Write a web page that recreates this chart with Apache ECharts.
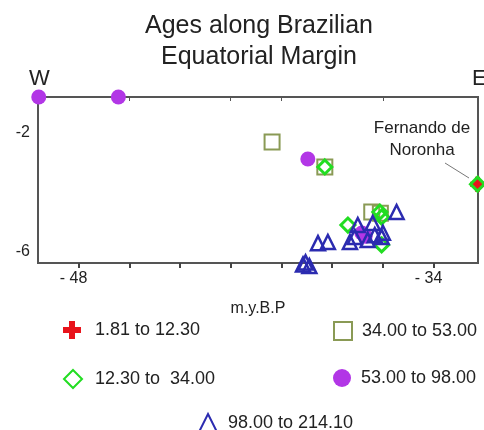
<!DOCTYPE html>
<html><head><meta charset="utf-8">
<script src="https://cdn.jsdelivr.net/npm/echarts@6/dist/echarts.min.js"></script>
<style>html,body{margin:0;padding:0;background:#fff}#c{width:484px;height:430px}</style>
</head><body><div id="c"></div>
<script>
var seriesNames = ['1.81 to 12.30', '12.30 to  34.00', '34.00 to 53.00', '53.00 to 98.00', '98.00 to 214.10'];
// [longitude, latitude]
var crossData = [[-32.27, -3.74]];
var diamondData = [[-38.29, -3.16], [-32.27, -3.74], [-37.38, -5.12], [-36.05, -5.79], [-36.12, -4.68], [-36.05, -4.85]];
var squareData = [[-40.37, -2.32], [-38.29, -3.16], [-36.44, -4.68], [-36.1, -4.72]];
var circleData = [[-49.57, -0.8], [-46.43, -0.8], [-38.96, -2.89], [-36.83, -5.39], [-36.7, -5.5]];
var triangleData = [[-35.46, -4.68], [-38.56, -5.73], [-38.17, -5.69], [-39.15, -6.45], [-38.9, -6.5], [-39.05, -6.38],
  [-37.3, -5.69], [-37.11, -5.52], [-36.99, -5.12], [-36.4, -5.05], [-36.32, -5.46], [-36.05, -5.52], [-36.0, -5.38], [-36.6, -5.62]];
var xTickValues = [-48, -46, -44, -42, -40, -38, -36, -34];
var xLabelValues = [-48, -34];
var xTopTickValues = [-46, -42, -40, -36];
var yLabelValues = [-2, -6];

var chart = echarts.init(document.getElementById('c'), null, {renderer: 'canvas'});
var FONT = 'Liberation Sans, Arial, sans-serif';
var crossPath = 'path://M4,0h4v4h4v4h-4v4h-4v-4h-4v-4h4z';
function legend(name, left, top, pad) {
  return {data: [name], left: left, top: top, padding: 0, itemWidth: 18, itemHeight: 18,
    selectedMode: false, textStyle: {fontSize: 18, color: '#222', fontFamily: FONT, padding: [0, 0, 0, pad]}};
}
chart.setOption({
  animation: false,
  title: {text: 'Ages along Brazilian\nEquatorial Margin', left: 254, textAlign: 'center', top: 6,
    textStyle: {fontSize: 25, fontWeight: 'normal', color: '#222', fontFamily: FONT, lineHeight: 31}},
  legend: [
    legend(seriesNames[0], 63, 321, 9),
    legend(seriesNames[1], 63, 369, 8),
    legend(seriesNames[2], 333, 321, 5),
    legend(seriesNames[3], 333, 369, 5),
    legend(seriesNames[4], 198, 413, 6)
  ],
  grid: {left: 38, right: 6, top: 97, bottom: 167, show: true, borderColor: '#555', borderWidth: 2, containLabel: false},
  xAxis: [{
    type: 'value', min: -49.6, max: -32.25, position: 'bottom',
    name: 'm.y.B.P', nameLocation: 'middle', nameGap: 38,
    nameTextStyle: {fontSize: 16, color: '#222', fontFamily: FONT},
    axisLine: {lineStyle: {color: '#555', width: 2}},
    axisTick: {show: true, customValues: xTickValues, length: 5, lineStyle: {color: '#444', width: 2}},
    axisLabel: {customValues: xLabelValues, fontSize: 16, color: '#222', fontFamily: FONT, margin: 8,
      padding: [0, 10, 0, 0],
      formatter: function (v) { return '- ' + Math.abs(v); }},
    splitLine: {show: false}
  }, {
    type: 'value', min: -49.6, max: -32.25, position: 'top',
    axisLine: {lineStyle: {color: '#555', width: 2}},
    axisTick: {show: true, inside: true, customValues: xTopTickValues, length: 4, lineStyle: {color: '#555', width: 1}},
    axisLabel: {show: false}, splitLine: {show: false}
  }],
  yAxis: {
    type: 'value', min: -6.4, max: -0.8,
    axisLine: {show: true, lineStyle: {color: '#555', width: 2}},
    axisTick: {show: false},
    axisLabel: {customValues: yLabelValues, fontSize: 16, color: '#222', fontFamily: FONT, margin: 8},
    splitLine: {show: false}
  },
  graphic: [
    {type: 'text', left: 29, top: 68, style: {text: 'W', fontSize: 22, fill: '#222', fontFamily: FONT}},
    {type: 'text', left: 472, top: 68, style: {text: 'E', fontSize: 22, fill: '#222', fontFamily: FONT}},
    {type: 'text', x: 422, y: 117, style: {text: 'Fernando de\nNoronha', fontSize: 17, lineHeight: 22, fill: '#222',
      fontFamily: FONT, align: 'center'}},
    {type: 'line', shape: {x1: 445, y1: 163, x2: 469, y2: 178}, style: {stroke: '#777', lineWidth: 1}}
  ],
  series: [
    {name: seriesNames[2], type: 'scatter', data: squareData, symbol: 'rect', symbolSize: 15, clip: false,
      itemStyle: {color: 'rgba(255,255,255,0)', borderColor: '#8a9a55', borderWidth: 2, opacity: 1}},
    {name: seriesNames[3], type: 'scatter', data: circleData, symbol: 'circle', symbolSize: 15, clip: false,
      itemStyle: {color: '#b236e6', opacity: 1}},
    {name: seriesNames[0], type: 'scatter', data: crossData, symbol: crossPath, symbolSize: 15, clip: false,
      itemStyle: {color: '#e8141c', opacity: 1}},
    {name: seriesNames[1], type: 'scatter', data: diamondData, symbol: 'diamond', symbolSize: 14, clip: false,
      itemStyle: {color: 'rgba(255,255,255,0)', borderColor: '#22dd22', borderWidth: 3, opacity: 1}},
    {name: seriesNames[4], type: 'scatter', data: triangleData, symbol: 'triangle', symbolSize: 14, clip: false,
      itemStyle: {color: 'rgba(255,255,255,0)', borderColor: '#2b2bb0', borderWidth: 2.5, opacity: 1}}
  ]
});
</script></body></html>
